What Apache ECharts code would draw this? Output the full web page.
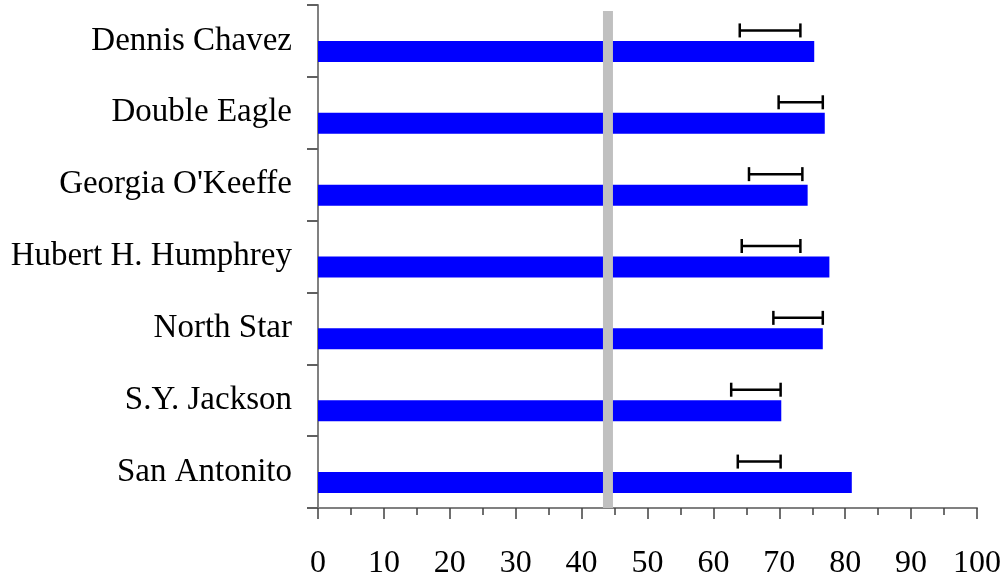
<!DOCTYPE html>
<html>
<head>
<meta charset="utf-8">
<script src="https://cdn.jsdelivr.net/npm/echarts@6/dist/echarts.min.js"></script>
<style>
html,body{margin:0;padding:0;background:#fff;}
#chart{width:1006px;height:582px;}
</style>
</head>
<body>
<div id="chart"></div>
<script>
const categories = ["Dennis Chavez","Double Eagle","Georgia O'Keeffe","Hubert H. Humphrey","North Star","S.Y. Jackson","San Antonito"];
const barValues = [75.3, 76.9, 74.3, 77.6, 76.6, 70.3, 81.0];
const rangeLow  = [64.0, 69.9, 65.4, 64.3, 69.1, 62.7, 63.7];
const rangeHigh = [73.2, 76.6, 73.5, 73.2, 76.6, 70.2, 70.2];
const refValue = 44;
const xTicks = [0,10,20,30,40,50,60,70,80,90,100];

const FONT = 'Liberation Serif';

const chart = echarts.init(document.getElementById('chart'), null, {renderer:'canvas'});

const barData = barValues.map((v,i)=>[v,i]);
const rangeData = rangeLow.map((lo,i)=>[lo, rangeHigh[i], i]);

chart.setOption({
  animation:false,
  backgroundColor:'#fff',
  grid:{left:318, right:29, top:5, bottom:74, containLabel:false},
  xAxis:{
    type:'value', min:xTicks[0], max:xTicks[xTicks.length-1], interval:10,
    axisLine:{show:true, lineStyle:{color:'#808080', width:2}},
    axisTick:{show:true, inside:false, length:11, lineStyle:{color:'#404040', width:1.5}},
    minorTick:{show:true, splitNumber:2, length:7, lineStyle:{color:'#404040', width:1.5}},
    splitLine:{show:false},
    axisLabel:{color:'#000', fontFamily:FONT, fontSize:32, margin:40}
  },
  yAxis:{
    type:'category', data:categories, inverse:true, boundaryGap:true,
    axisLine:{show:true, lineStyle:{color:'#808080', width:2}},
    axisTick:{show:true, inside:false, length:11, alignWithLabel:false, lineStyle:{color:'#606060', width:2}},
    axisLabel:{color:'#000', fontFamily:FONT, fontSize:33, margin:26, padding:[7,0,0,0]},
    splitLine:{show:false}
  },
  series:[
    {
      type:'custom',
      data:barData,
      encode:{x:0, y:1},
      renderItem:function(params, api){
        const v = api.value(0), idx = api.value(1);
        const p0 = api.coord([0, idx]);
        const p1 = api.coord([v, idx]);
        return {type:'rect', shape:{x:p0[0], y:p0[1], width:p1[0]-p0[0], height:21},
                style:{fill:'#0000ff'}};
      },
      z:2
    },
    {
      type:'custom',
      data:rangeData,
      encode:{x:[0,1], y:2},
      renderItem:function(params, api){
        const lo = api.value(0), hi = api.value(1), idx = api.value(2);
        const a = api.coord([lo, idx]);
        const b = api.coord([hi, idx]);
        const y = a[1] - 10.5;
        const st = {stroke:'#000', lineWidth:2.5, fill:null};
        return {type:'group', children:[
          {type:'line', shape:{x1:a[0], y1:y, x2:b[0], y2:y}, style:st},
          {type:'line', shape:{x1:a[0], y1:y-7, x2:a[0], y2:y+7}, style:st},
          {type:'line', shape:{x1:b[0], y1:y-7, x2:b[0], y2:y+7}, style:st}
        ]};
      },
      z:3
    },
    {
      type:'custom',
      data:[[refValue]],
      encode:{x:0},
      renderItem:function(params, api){
        const cs = params.coordSys;
        const x = api.coord([api.value(0), 0])[0];
        return {type:'rect', shape:{x:x-5, y:cs.y+6, width:10, height:cs.height-6},
                style:{fill:'#c0c0c0'}};
      },
      z:4
    }
  ]
});
</script>
</body>
</html>
